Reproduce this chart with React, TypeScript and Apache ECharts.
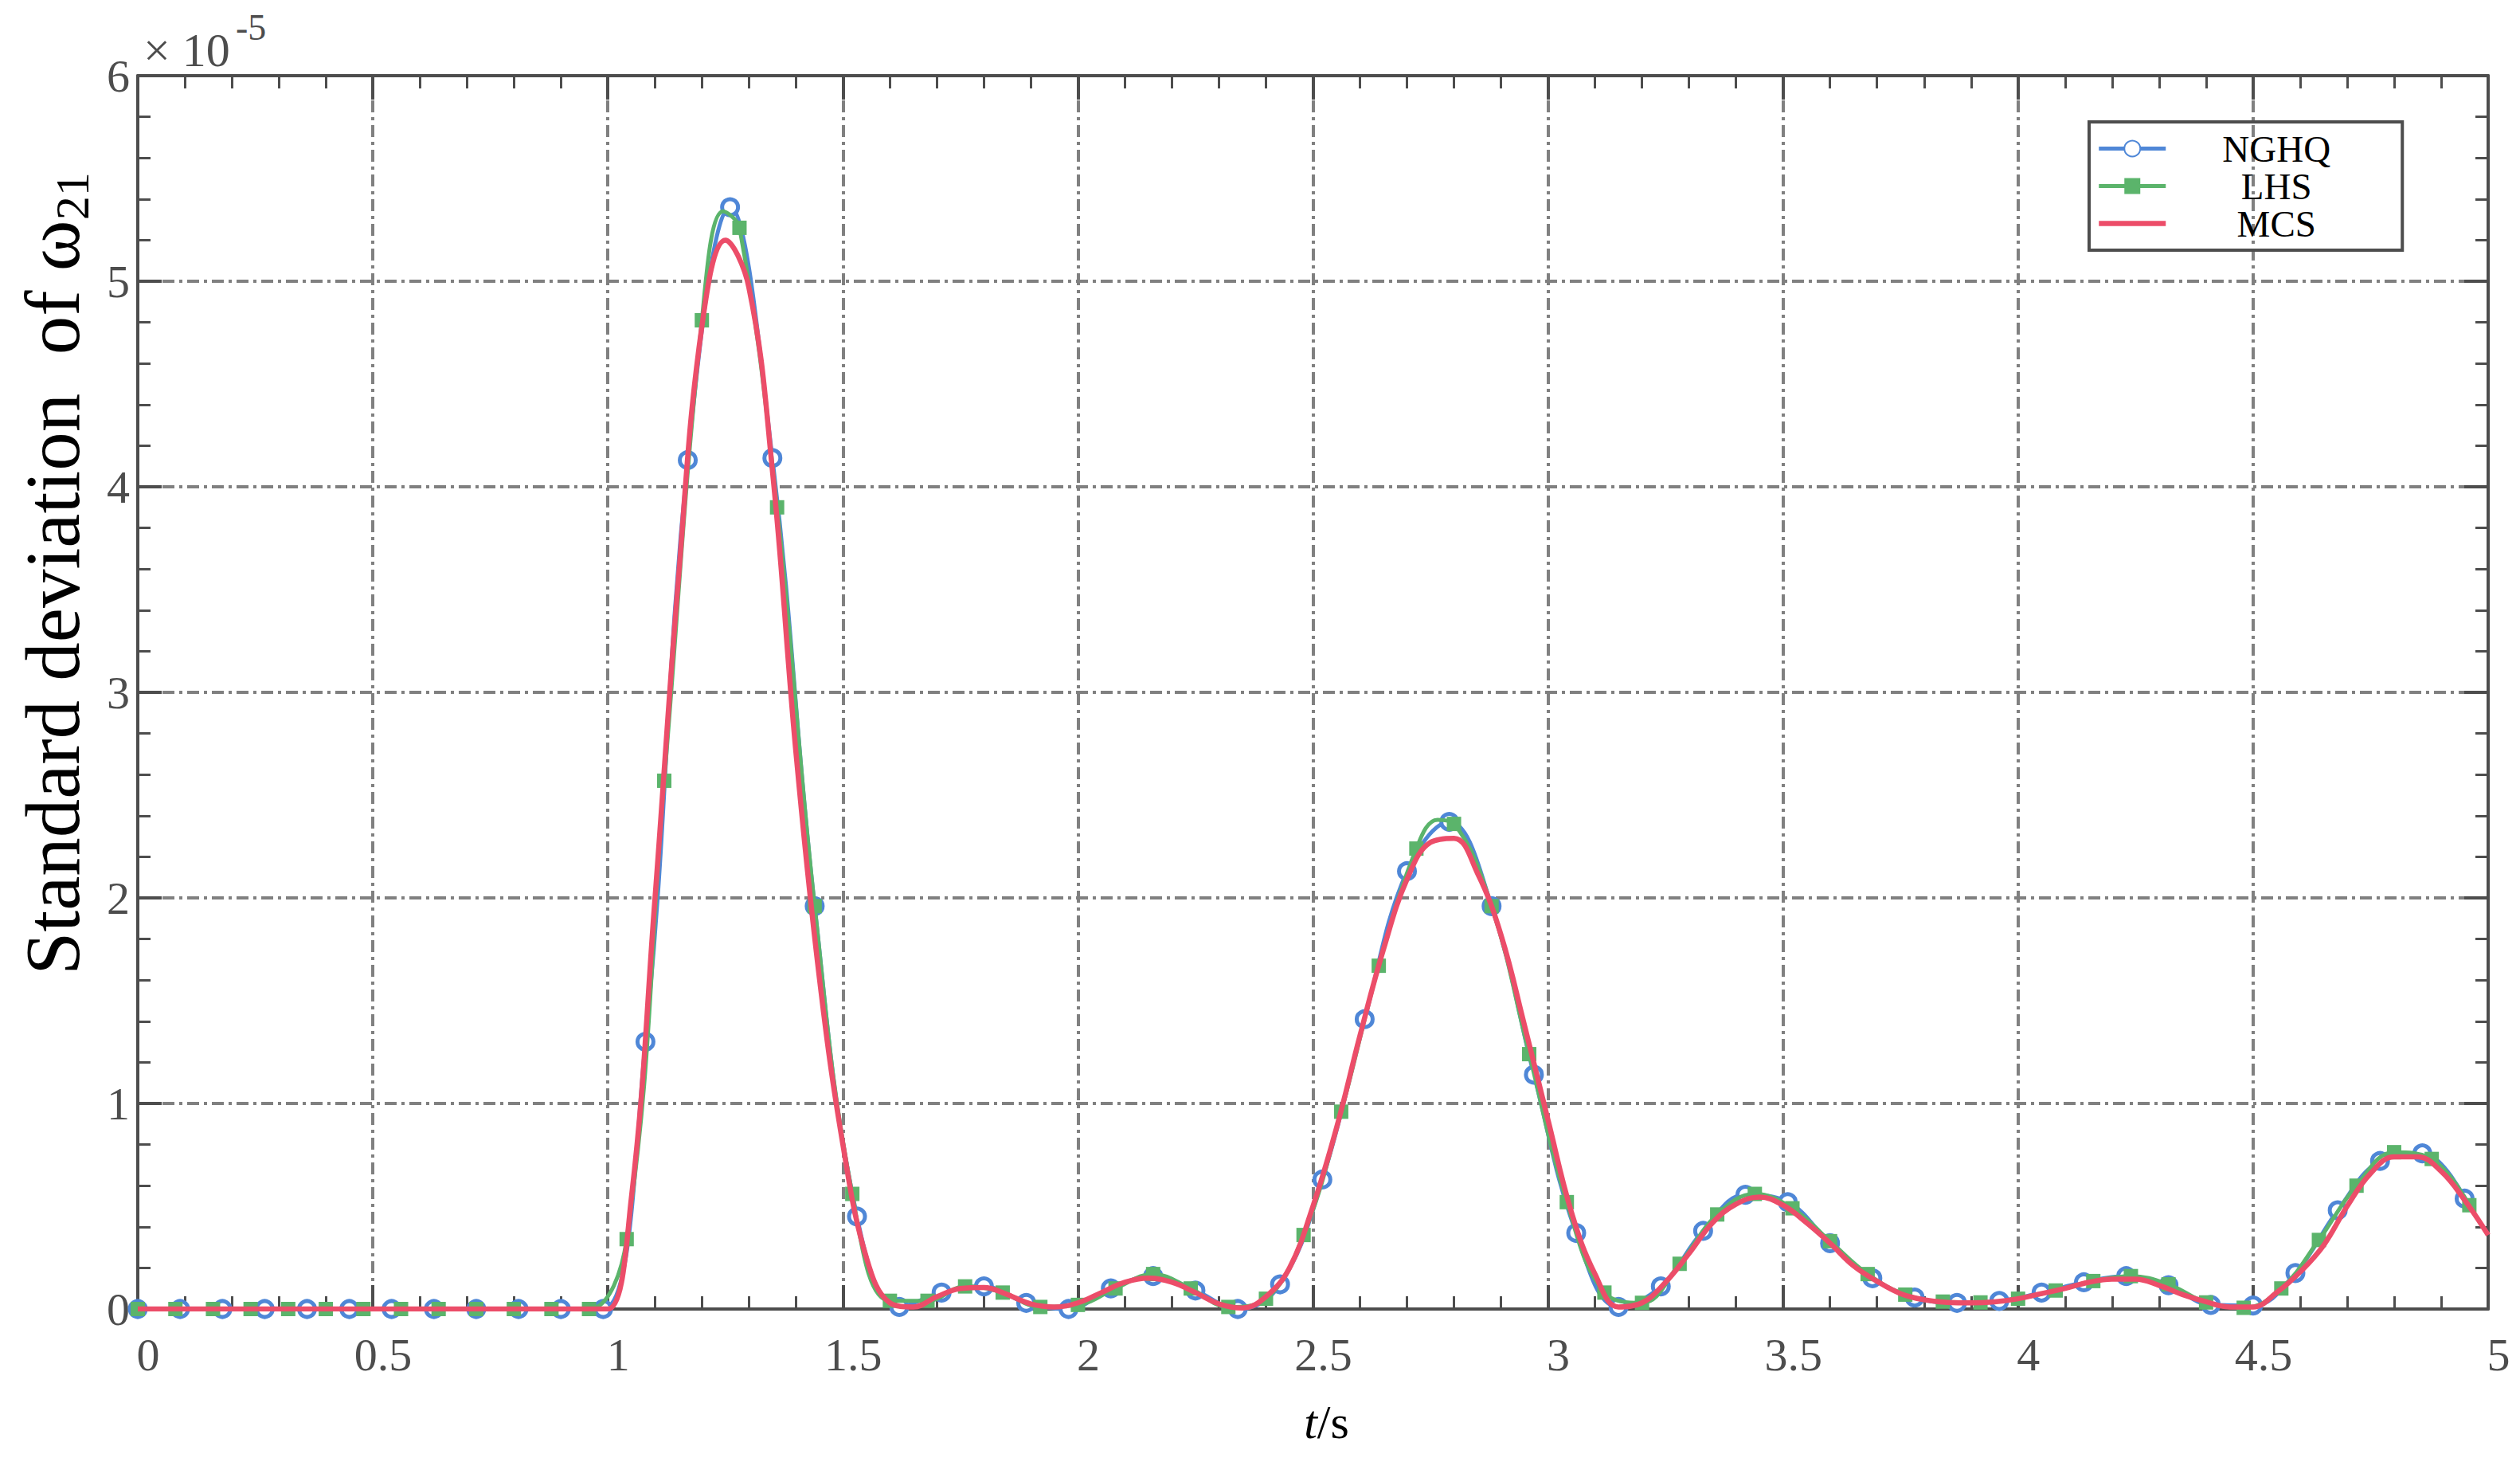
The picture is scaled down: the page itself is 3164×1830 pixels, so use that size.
import React, { useEffect, useRef } from "react";
import * as echarts from "echarts";

// ---- axis ranges / ticks ----
const X_MIN = 0;
const X_MAX = 5;
const X_STEP = 0.5;
const Y_MIN = 0;
const Y_MAX = 6;
const Y_STEP = 1;

// ---- series (values in units of 1e-5) ----
// MCS: sampled every 0.05 s
const MCS_STEP = 0.05;
const mcsValues = [
  0, 0, 0, 0, 0, 0, 0, 0, 0, 0, 0, 0, 0, 0, 0, 0, 0, 0, 0, 0, 0,
  0.54, 1.99, 3.55, 4.78, 5.2, 4.97, 4.08, 2.71, 1.61, 0.8,
  0.25, 0.03, 0.01, 0.06, 0.1, 0.105, 0.07, 0.025, 0.01, 0.03,
  0.08, 0.13, 0.15, 0.13, 0.08, 0.025, 0.005, 0.06, 0.2, 0.5,
  0.88, 1.33, 1.75, 2.09, 2.27, 2.29, 2.12, 1.82, 1.38, 0.92,
  0.47, 0.17, 0.01, 0.03, 0.13, 0.27, 0.42, 0.51, 0.545, 0.505,
  0.42, 0.32, 0.21, 0.135, 0.075, 0.045, 0.032, 0.03, 0.035, 0.05,
  0.075, 0.1, 0.13, 0.145, 0.145, 0.115, 0.07, 0.035, 0.01, 0.01,
  0.08, 0.18, 0.31, 0.5, 0.66, 0.74, 0.74, 0.67, 0.53, 0.36,
];

// NGHQ: markers every 0.09 s
const NGHQ_STEP = 0.09;
const nghqValues = [
  0, 0, 0, 0, 0, 0, 0, 0, 0, 0, 0, 0,
  1.3, 4.13, 5.36, 4.14, 1.96, 0.45, 0.01, 0.08, 0.11, 0.03,
  0.0, 0.1, 0.16, 0.09, 0.0, 0.12, 0.63, 1.41, 2.13, 2.37,
  1.96, 1.14, 0.37, 0.01, 0.11, 0.38, 0.556, 0.52, 0.32, 0.15,
  0.056, 0.03, 0.039, 0.08, 0.13, 0.16, 0.116, 0.02, 0.017, 0.175,
  0.48, 0.72, 0.757, 0.537,
];

// LHS: markers every 0.08 s
const LHS_STEP = 0.08;
const lhsValues = [
  0, 0, 0, 0, 0, 0, 0, 0, 0, 0, 0, 0, 0,
  0.34, 2.57, 4.81, 5.26, 3.9, 1.96, 0.56, 0.04, 0.04, 0.11,
  0.08, 0.01, 0.02, 0.1, 0.17, 0.1, 0.01, 0.05, 0.36, 0.96,
  1.67, 2.24, 2.36, 1.96, 1.24, 0.52, 0.08, 0.03, 0.22, 0.46,
  0.56, 0.49, 0.33, 0.17, 0.07, 0.036, 0.032, 0.05, 0.09, 0.136,
  0.16, 0.12, 0.032, 0.006, 0.1, 0.336, 0.6, 0.763, 0.73, 0.505,
];
// extra LHS curve points (no marker) at the curve's peaks
const lhsCurveT = [1.245, 2.765];
const lhsCurveV = [5.34, 2.38];

const legendNames = ["NGHQ", "LHS", "MCS"];
const COLORS = { NGHQ: "#4f87d7", LHS: "#5bb46b", MCS: "#ec4d69" };

const FONT = '"Liberation Serif", "Times New Roman", serif';
const AXIS_COLOR = "#4d4d4d";
const GRID_COLOR = "#808080";

const toPairs = (values: number[], step: number) =>
  values.map((v, i) => [+(i * step).toFixed(3), v]);

export default function App() {
  const ref = useRef<HTMLDivElement>(null);

  useEffect(() => {
    document.body.style.margin = "0";
    if (!ref.current) return;
    const chart = echarts.init(ref.current, undefined, { renderer: "svg" });

    const mcsData = toPairs(mcsValues, MCS_STEP);
    const nghqData = toPairs(nghqValues, NGHQ_STEP);
    const lhsMarkers = toPairs(lhsValues, LHS_STEP).map((p) => ({ value: p }));
    const lhsExtra = lhsCurveT.map((t, i) => ({ value: [t, lhsCurveV[i]], symbol: "none" }));
    const lhsData = [...lhsMarkers, ...lhsExtra].sort(
      (a: any, b: any) => a.value[0] - b.value[0]
    );

    const tickCommon = {
      axisLine: { show: true, onZero: false, lineStyle: { color: AXIS_COLOR, width: 4 } },
      axisTick: { show: true, inside: true, length: 30, lineStyle: { color: AXIS_COLOR, width: 4 } },
      minorTick: { show: true, splitNumber: 5, length: 16, lineStyle: { color: AXIS_COLOR, width: 3 } },
    };
    const gridLine = {
      show: true,
      lineStyle: { color: GRID_COLOR, width: 4, type: [15, 6, 4, 6] },
    };

    const option: any = {
      animation: false,
      backgroundColor: "#ffffff",
      grid: { left: 173, right: 40, top: 95, bottom: 187, containLabel: false, outerBoundsMode: "none" },
      xAxis: [
        {
          type: "value",
          min: X_MIN,
          max: X_MAX,
          interval: X_STEP,
          position: "bottom",
          ...tickCommon,
          splitLine: gridLine,
          axisLabel: {
            color: AXIS_COLOR,
            fontSize: 58,
            fontFamily: FONT,
            margin: 28,
            padding: [0, 0, 0, 26],
          },
          name: "{i|t}/s",
          nameLocation: "middle",
          nameGap: 112,
          nameTextStyle: {
            fontSize: 60,
            fontFamily: FONT,
            color: "#000",
            padding: [0, 0, 0, 34],
            rich: {
              i: { fontSize: 60, fontFamily: FONT, color: "#000", fontStyle: "italic" },
            },
          },
        },
        {
          type: "value",
          min: X_MIN,
          max: X_MAX,
          interval: X_STEP,
          position: "top",
          ...tickCommon,
          splitLine: { show: false },
          axisLabel: { show: false },
        },
      ],
      yAxis: [
        {
          type: "value",
          min: Y_MIN,
          max: Y_MAX,
          interval: Y_STEP,
          position: "left",
          ...tickCommon,
          splitLine: gridLine,
          axisLabel: { color: AXIS_COLOR, fontSize: 58, fontFamily: FONT, margin: 10 },
        },
        {
          type: "value",
          min: Y_MIN,
          max: Y_MAX,
          interval: Y_STEP,
          position: "right",
          ...tickCommon,
          splitLine: { show: false },
          axisLabel: { show: false },
        },
      ],
      legend: {
        data: [
          { name: legendNames[0] },
          { name: legendNames[1] },
          { name: legendNames[2], itemStyle: { opacity: 0 }, lineStyle: { width: 6.5 } },
        ],
        orient: "vertical",
        left: 2623,
        top: 153,
        padding: [10, 24, 10, 9],
        itemWidth: 84,
        itemHeight: 25,
        itemGap: 0,
        borderColor: AXIS_COLOR,
        borderWidth: 4,
        lineStyle: { width: 5 },
        formatter: (name: string) => `{a|${name}}`,
        textStyle: {
          fontSize: 47,
          fontFamily: FONT,
          color: "#000",
          rich: {
            a: { width: 268, align: "center", fontSize: 47, lineHeight: 50, fontFamily: FONT, color: "#000" },
          },
        },
      },
      graphic: [
        {
          type: "text",
          x: 180,
          y: 63,
          style: { text: "× 10", fontSize: 60, fontFamily: FONT, fill: AXIS_COLOR, align: "left", verticalAlign: "middle" },
        },
        {
          type: "text",
          x: 296,
          y: 34,
          style: { text: "-5", fontSize: 46, fontFamily: FONT, fill: AXIS_COLOR, align: "left", verticalAlign: "middle" },
        },
        {
          type: "text",
          x: 66,
          y: 720,
          rotation: Math.PI / 2,
          style: {
            text: "{a|Standard deviation  of ω}{b|21}",
            align: "center",
            verticalAlign: "middle",
            rich: {
              a: { fontSize: 97, fontFamily: FONT, fill: "#000", lineHeight: 110 },
              b: { fontSize: 60, fontFamily: FONT, fill: "#000", lineHeight: 76, verticalAlign: "bottom" },
            },
          },
        },
      ],
      series: [
        {
          name: "NGHQ",
          type: "line",
          data: nghqData,
          smooth: 0.4,
          symbol: "circle",
          symbolSize: 20,
          showSymbol: true,
          lineStyle: { color: COLORS.NGHQ, width: 5 },
          itemStyle: { color: "#ffffff", borderColor: COLORS.NGHQ, borderWidth: 5 },
          z: 2,
        },
        {
          name: "LHS",
          type: "line",
          data: lhsData,
          smooth: 0.4,
          symbol: "rect",
          symbolSize: 18,
          showSymbol: true,
          lineStyle: { color: COLORS.LHS, width: 5 },
          itemStyle: { color: COLORS.LHS },
          z: 3,
        },
        {
          name: "MCS",
          type: "line",
          data: mcsData,
          smooth: 0.4,
          symbol: "none",
          lineStyle: { color: COLORS.MCS, width: 6.5 },
          itemStyle: { color: COLORS.MCS },
          z: 4,
        },
      ],
    };

    chart.setOption(option);
    return () => chart.dispose();
  }, []);

  return (
    <div
      ref={ref}
      style={{ position: "absolute", left: 0, top: 0, width: 3164, height: 1830, background: "#fff" }}
    />
  );
}
